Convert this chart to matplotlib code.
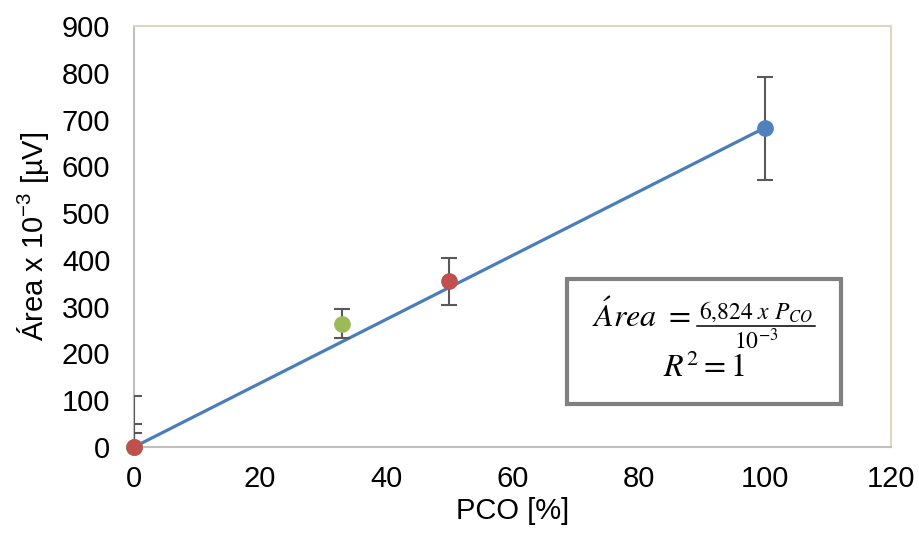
import matplotlib
matplotlib.use("Agg")
import matplotlib.pyplot as plt
import numpy as np
from matplotlib.patches import Rectangle
from matplotlib.lines import Line2D

plt.rcParams['font.family'] = ['Liberation Sans', 'DejaVu Sans']
plt.rcParams['mathtext.fontset'] = 'custom'
plt.rcParams['mathtext.rm'] = 'Liberation Sans'
plt.rcParams['mathtext.it'] = 'Liberation Sans:italic'

# measured points, each series starts at the origin
blue_x = [0, 100]
blue_y = [0, 681]
blue_err = 110

green_x = [0, 33]
green_y = [0, 264]
green_err = 31

red_x = [0, 50]
red_y = [0, 354]
red_err = 50

# linear fit
slope = 6.824
fit_x = np.array([0, 100])

xticks = [0, 20, 40, 60, 80, 100, 120]
yticks = [0, 100, 200, 300, 400, 500, 600, 700, 800, 900]

W, H = 919, 538
fig = plt.figure(figsize=(W / 100, H / 100), dpi=100)
ax = fig.add_axes([0.1458, 0.1691, 0.9695 - 0.1458, 0.9517 - 0.1691])

ax.plot(fit_x, slope * fit_x, color='#4a7ebb', lw=2.3, zorder=2)

series = [
    (blue_x, blue_y, blue_err, '#4f81bd'),
    (green_x, green_y, green_err, '#9bbb59'),
    (red_x, red_y, red_err, '#c0504d'),
]
for xs, ys, err, col in series:
    ax.errorbar(xs, ys, yerr=err, fmt='none', ecolor='#595959',
                elinewidth=1.5, capsize=6, capthick=1.5, zorder=3)
for xs, ys, err, col in series:
    ax.plot(xs, ys, 'o', color=col, ms=11, mec=col, clip_on=False, zorder=4)

ax.set_xlim(0, 120)
ax.set_ylim(0, 900)
ax.set_xticks(xticks)
ax.set_yticks(yticks)
ax.tick_params(length=0, labelsize=21)
ax.tick_params(axis='y', pad=17)
ax.tick_params(axis='x', pad=13)

for side in ['top', 'right']:
    ax.spines[side].set_color('#ddd8c4')
    ax.spines[side].set_linewidth(1.5)
for side in ['bottom', 'left']:
    ax.spines[side].set_color('#bfbfbf')
    ax.spines[side].set_linewidth(1.5)

ax.set_xlabel('PCO [%]', fontsize=21, labelpad=3)
ax.set_ylabel('Área x 10$^{-3}$ [µV]', fontsize=21, labelpad=8)


def px(x, y):
    return x / W, 1 - y / H


# equation box
box = Rectangle(px(567, 404), (841 - 567) / W, (404 - 279) / H,
                transform=fig.transFigure, fill=False, ec='#808080', lw=3)
fig.patches.append(box)

eq = dict(math_fontfamily='stix', va='baseline')
fig.text(*px(691, 327), r'$\acute{A}rea\ =$', fontsize=23, ha='right', **eq)
fig.text(*px(756, 319), r'$6{,}824\ x\ P_{CO}$', fontsize=17, ha='center', **eq)
fig.text(*px(756, 349), r'$10^{-3}$', fontsize=17, ha='center', **eq)
fig.add_artist(Line2D([697 / W, 815 / W], [1 - 326 / H, 1 - 326 / H],
                      transform=fig.transFigure, color='black', lw=1.1))
fig.text(*px(704, 377), r'$R^2 = 1$', fontsize=23, ha='center', **eq)

fig.savefig('out.png', dpi=100)
